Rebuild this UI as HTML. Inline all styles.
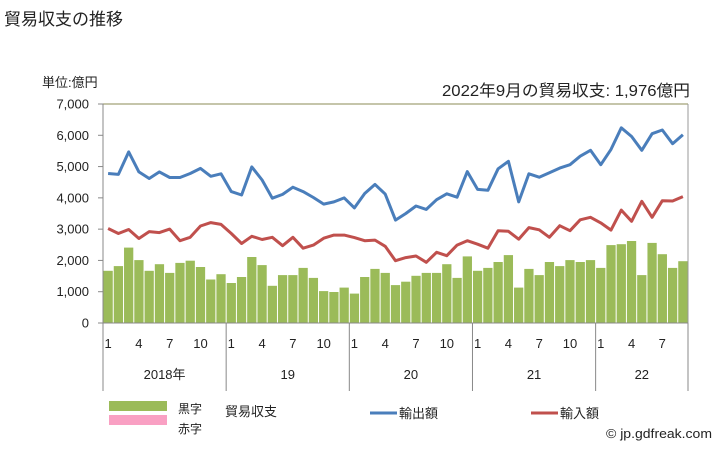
<!DOCTYPE html>
<html><head><meta charset="utf-8"><style>
body{margin:0;background:#fff;}
svg text{font-family:"Liberation Sans","Noto Sans CJK JP",sans-serif;fill:#222;}
</style></head><body>
<svg id="c" width="728" height="451" xmlns="http://www.w3.org/2000/svg">
<rect width="728" height="451" fill="#fff"/>
<text x="4" y="25" font-size="17">貿易収支の推移</text>
<text x="42" y="87" font-size="13">単位:億円</text>
<text x="690" y="96" font-size="16" text-anchor="end" textLength="248" lengthAdjust="spacingAndGlyphs">2022年9月の貿易収支: 1,976億円</text>
<g id="g"></g>
<rect x="109" y="401" width="58" height="10" fill="#9bbb59"/>
<rect x="109" y="415" width="58" height="10" fill="#f9a0c3"/>
<text x="178" y="413" font-size="12">黒字</text>
<text x="178" y="433" font-size="12">赤字</text>
<text x="225" y="416" font-size="13">貿易収支</text>
<line x1="370" y1="413" x2="397" y2="413" stroke="#4a7ebb" stroke-width="3"/>
<text x="399" y="418" font-size="13">輸出額</text>
<line x1="531" y1="413" x2="558" y2="413" stroke="#c0504d" stroke-width="3"/>
<text x="560" y="418" font-size="13">輸入額</text>
<text x="606" y="438" font-size="13" textLength="106" lengthAdjust="spacingAndGlyphs">© jp.gdfreak.com</text>
</svg>
<script>
var ex=[4780,4750,5470,4830,4620,4830,4650,4650,4780,4940,4690,4770,4200,4090,4990,4570,3990,4110,4340,4200,4010,3800,3870,4000,3680,4140,4430,4120,3290,3500,3740,3630,3940,4130,4020,4840,4270,4240,4930,5170,3870,4770,4660,4800,4950,5060,5330,5520,5060,5550,6240,5960,5520,6050,6170,5730,6020];
var im=[3020,2860,2990,2700,2920,2890,3000,2630,2740,3100,3210,3150,2860,2540,2770,2670,2740,2470,2740,2390,2490,2710,2810,2810,2730,2630,2650,2450,1990,2090,2140,1940,2260,2150,2490,2630,2520,2390,2950,2930,2680,3050,2980,2740,3110,2950,3300,3380,3200,2970,3610,3250,3890,3380,3910,3900,4040];
var bl=[1670,1820,2410,2010,1670,1880,1600,1920,1990,1790,1390,1560,1280,1470,2110,1850,1190,1530,1530,1760,1440,1020,990,1130,940,1470,1730,1600,1210,1320,1510,1600,1600,1880,1440,2130,1670,1760,1950,2170,1130,1730,1530,1950,1820,2010,1950,2010,1760,2490,2520,2620,1530,2560,2200,1760,1976];
var L=103,R=688,T=104,B=323,W=(R-L)/57;
function Y(v){return B-v*(B-T)/7000;}
function X(i){return L+(i+0.5)*W;}
var s='';
for(var i=0;i<57;i++){s+='<rect x="'+(L+i*W+0.5).toFixed(2)+'" y="'+Y(bl[i]).toFixed(1)+'" width="'+(W-1).toFixed(2)+'" height="'+(B-Y(bl[i])).toFixed(1)+'" fill="#9bbb59"/>';}
s+='<line x1="'+L+'" y1="'+T+'" x2="'+R+'" y2="'+T+'" stroke="#8b8b55" stroke-width="1"/>';
s+='<line x1="'+R+'" y1="'+T+'" x2="'+R+'" y2="'+B+'" stroke="#999" stroke-width="1"/>';
s+='<line x1="'+L+'" y1="'+T+'" x2="'+L+'" y2="'+B+'" stroke="#888" stroke-width="1"/>';
for(var k=0;k<=7;k++){var y=Y(k*1000);s+='<line x1="98" y1="'+y+'" x2="'+L+'" y2="'+y+'" stroke="#888"/>';
s+='<text x="89" y="'+(y+4.5)+'" font-size="13" text-anchor="end">'+(k?k+',000':'0')+'</text>';}
s+='<line x1="98" y1="'+B+'" x2="'+R+'" y2="'+B+'" stroke="#888"/>';
function pl(d,c){var p=d.map(function(v,i){return X(i).toFixed(1)+','+Y(v).toFixed(1)}).join(' ');return '<polyline points="'+p+'" fill="none" stroke="'+c+'" stroke-width="3" stroke-linejoin="round"/>';}
s+=pl(ex,'#4a7ebb')+pl(im,'#c0504d');
for(var yr=0;yr<=5;yr++){var x=L+yr*12*W;if(x>R)x=R;s+='<line x1="'+x+'" y1="'+B+'" x2="'+x+'" y2="391" stroke="#888"/>';}
s+='<line x1="'+R+'" y1="'+B+'" x2="'+R+'" y2="391" stroke="#888"/>';
for(var i=0;i<57;i++){var m=i%12;if(m%3==0){s+='<text x="'+X(i).toFixed(1)+'" y="348" font-size="13" text-anchor="middle">'+(m+1)+'</text>';}}
var yl=['2018年','19','20','21','22'];
for(var yr=0;yr<5;yr++){var a=L+yr*12*W,b=Math.min(R,a+12*W);s+='<text x="'+((a+b)/2)+'" y="379" font-size="13" text-anchor="middle">'+yl[yr]+'</text>';}
document.getElementById('g').innerHTML=s;
</script>
</body></html>
